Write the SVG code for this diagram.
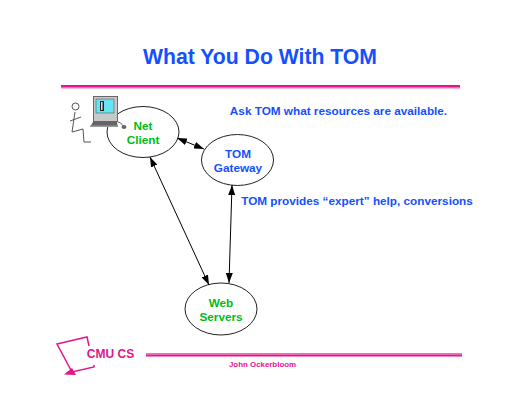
<svg xmlns="http://www.w3.org/2000/svg" width="520" height="402" viewBox="0 0 520 402">
<defs>
<marker id="ah" markerUnits="userSpaceOnUse" markerWidth="10" markerHeight="7" refX="10" refY="3.5" orient="auto-start-reverse"><path d="M0,0 L10,3.500 L0,7 Z" fill="#000"/></marker>
</defs>
<style>
text{font-family:"Liberation Sans",Arial,sans-serif;font-weight:bold;text-anchor:middle}
.b{fill:#1450ff;font-size:11.75px}
.g{fill:#00bc14;font-size:11.75px}
.node{fill:#fff;stroke:#222;stroke-width:1}
.c{stroke:#000;stroke-width:1;fill:none;marker-start:url(#ah);marker-end:url(#ah)}
.fig{stroke:#555;stroke-width:1;fill:none}
.pk{stroke:#e4148c;fill:none}
</style>
<rect width="520" height="402" fill="#fff"/>
<text x="260" y="64" fill="#1450ff" style="font-size:21.2px">What You Do With TOM</text>
<rect x="61" y="85" width="399" height="2" fill="#e4148c"/><rect x="61" y="87" width="399" height="1.500" fill="#f070b8"/>
<text class="b" x="338.500" y="115">Ask TOM what resources are available.</text>
<text class="b" x="357" y="205">TOM provides “expert” help, conversions</text>
<g id="user">
<circle class="fig" cx="75.500" cy="106.500" r="3.500"/>
<path class="fig" d="M75,112 L72,132 M70,121 L81,117 M72,132 L83,129 L84,142 L91,142"/>
</g>
<g id="client">
<ellipse class="node" cx="143" cy="132" rx="36" ry="25.500"/>
<rect x="93.500" y="96.500" width="24" height="25" fill="#c8c8c8" stroke="#666" stroke-width="1"/>
<rect x="96" y="99" width="18" height="14" fill="#66e4f4" stroke="#444" stroke-width=".5"/>
<rect x="100" y="101" width="4" height="10" fill="#222"/><rect x="101" y="102" width="1.500" height="8" fill="#ddd"/>
<path d="M90,127 L93,122 L117,122 L118,127 Z" fill="#666"/>
<rect x="90" y="125.500" width="28" height="1.500" fill="#999"/>
<path d="M118,122 Q121,122 123,126" fill="none" stroke="#666"/>
<ellipse cx="124" cy="127" rx="2.500" ry="2" fill="#666"/>
<text class="g" x="143" y="130">Net</text><text class="g" x="143" y="144">Client</text>
</g>
<g id="gateway">
<ellipse class="node" cx="237.500" cy="160" rx="36" ry="25.500"/>
<text class="b" x="238" y="158">TOM</text><text class="b" x="238" y="172">Gateway</text>
</g>
<g id="servers">
<ellipse class="node" cx="221" cy="309" rx="36" ry="26"/>
<text class="g" x="221" y="307">Web</text><text class="g" x="221" y="321">Servers</text>
</g>
<g id="connectors">
<path class="c" d="M177,138 L204,149"/>
<path class="c" d="M150,157 L209,285"/>
<path class="c" d="M232,185 L229,283"/>
</g>
<g id="logo">
<path class="pk" stroke-width="1.500" d="M89,346 L87,337 L57,344 L72,372 L94,367 L94,365"/>
<path d="M64,374.500 L72,368 L76,375 Z" fill="#e4148c"/>
<text x="110.500" y="358" fill="#e4148c" style="font-size:12px">CMU CS</text>
</g>
<rect x="146" y="353" width="316" height="1.500" fill="#f070b8"/><rect x="146" y="354.500" width="316" height="2" fill="#e4148c"/>
<text x="262.500" y="366.500" fill="#e4148c" style="font-size:7.900px">John Ockerbloom</text>
</svg>
